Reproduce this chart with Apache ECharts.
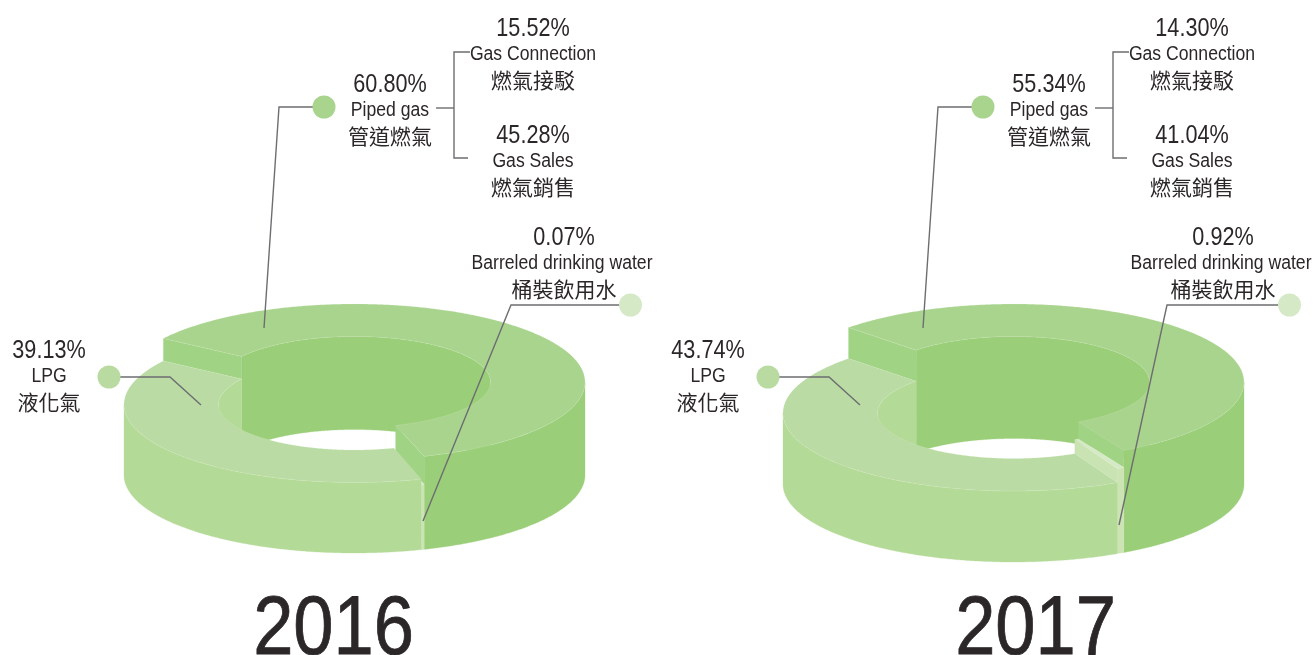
<!DOCTYPE html>
<html><head><meta charset="utf-8">
<style>html,body{margin:0;padding:0;background:#fff}#c{width:1313px;height:655px}</style>
<script src="https://cdn.jsdelivr.net/npm/echarts@6/dist/echarts.min.js"></script>
</head><body><div id="c"></div>
<script>
// ---- data ----
const years = ['2016', '2017'];
const sliceNames = ['Piped gas', 'Barreled drinking water', 'LPG'];
const sliceNamesZh = ['管道燃氣', '桶裝飲用水', '液化氣'];
const subNames = ['Gas Connection', 'Gas Sales'];
const subNamesZh = ['燃氣接駁', '燃氣銷售'];
// printed percentages
const printed2016 = ['60.80%', '0.07%', '39.13%'];
const printed2017 = ['55.34%', '0.92%', '43.74%'];
const printedSub2016 = ['15.52%', '45.28%'];
const printedSub2017 = ['14.30%', '41.04%'];
// slice shares as drawn in the artwork (measured; the artist's slices differ slightly from the printed figures)
const drawn2016 = [60.67, 0.22, 39.11];
const drawn2017 = [54.75, 0.5, 44.75];

// ---- layout & style ----
const panels = [
  { cx: 354.5, dx: 0,   start: 304,   base: 475, tops: [382, 410, 404.5], drawn: drawn2016, printed: printed2016, sub: printedSub2016, yearX: 333.5,
    waterLine: [[630,305],[511,305],[423,521]] },
  { cx: 1013.5, dx: 659, start: 314.3, base: 484, tops: [382, 399, 413],  drawn: drawn2017, printed: printed2017, sub: printedSub2017, yearX: 1035.5,
    waterLine: [[1289,305],[1167,305],[1119,525]] }
];
const RX = 230.5, RY = 78, IRX = 136, IRY = 45.5;
const sliceColors = [
  { top: '#A9D48E', wall: '#9ACE78', side: '#A1D385' },
  { top: '#D6E9C6', wall: '#CCE4B4', side: '#C9E3B2' },
  { top: '#BADBA3', wall: '#B4DA97', side: '#B4DA97' }
];
const dotColors = ['#A9D48E', '#D6E9C6', '#B9DBA1'];
const textColor = '#2b2728', lineColor = '#6d6e71';
const SANS = '"Liberation Sans", Arial, sans-serif';
const CJK = '"Noto Sans CJK TC", sans-serif';

function pt(cx, cy, rx, ry, deg) {
  const a = deg * Math.PI / 180;
  return [cx + rx * Math.sin(a), cy - ry * Math.cos(a)];
}
function arc(cx, cy, rx, ry, a, b) {
  const pts = [], n = Math.max(2, Math.ceil(Math.abs(b - a) * 2));
  for (let i = 0; i <= n; i++) pts.push(pt(cx, cy, rx, ry, a + (b - a) * i / n));
  return pts;
}
function band(cx, cy1, cy2, rx, ry, a, b) {
  return arc(cx, cy1, rx, ry, a, b).concat(arc(cx, cy2, rx, ry, a, b).reverse());
}
function overlap(a, b, lo, hi) {
  const out = [];
  for (const k of [-360, 0, 360]) {
    const s = Math.max(a, lo + k), e = Math.min(b, hi + k);
    if (e > s) out.push([s, e]);
  }
  return out;
}

function makeRender(panel) {
  const n = panel.drawn.length;
  return function (params, api) {
    const i = params.dataIndex, share = api.value(0);
    let a = panel.start;
    for (let k = 0; k < i; k++) a += panel.drawn[k] * 3.6;
    const b = a + share * 3.6;
    const top = panel.tops[i], base = panel.base, c = sliceColors[i], cx = panel.cx;
    const kids = [];
    let z = i * 10;
    const poly = (points, fill, stroke) => kids.push({
      type: 'polygon', z2: z++, shape: { points },
      style: stroke ? { fill, stroke, lineWidth: 0.5 } : { fill, stroke: fill, lineWidth: 0.3 }
    });
    overlap(a, b, 270, 450).forEach(r => poly(band(cx, top, base, IRX, IRY, r[0], r[1]), c.wall));
    overlap(a, b, 90, 270).forEach(r => poly(band(cx, top, base, RX, RY, r[0], r[1]), c.wall));
    // radial faces towards the neighbour with the lower top
    const prevTop = panel.tops[(i + n - 1) % n], nextTop = panel.tops[(i + 1) % n];
    const face = (ang, cyTo) => poly([
      pt(cx, top, RX, RY, ang), pt(cx, top, IRX, IRY, ang),
      pt(cx, cyTo, IRX, IRY, ang), pt(cx, cyTo, RX, RY, ang)], c.side);
    if (Math.sin(a * Math.PI / 180) < 0 && prevTop > top) face(a, prevTop);
    if (Math.sin(b * Math.PI / 180) > 0 && nextTop > top) face(b, nextTop);
    poly(arc(cx, top, RX, RY, a, b).concat(arc(cx, top, IRX, IRY, a, b).reverse()), c.top, 'rgba(236,246,228,0.3)');
    return { type: 'group', children: kids };
  };
}

const graphics = [];
function txt(str, x, y, size, sx, font, stroke) {
  const style = { text: str, x: 0, y: 0, align: 'center', verticalAlign: 'middle', fill: textColor, fontSize: size, fontFamily: font };
  if (stroke) { style.stroke = textColor; style.lineWidth = stroke; }
  graphics.push({ type: 'text', x, y, scaleX: sx, silent: true, z: 10, style });
}
function block(pct, en, zh, x, y, enX) {
  txt(pct, x, y + 1, 25, 0.865, SANS);
  txt(en, enX === undefined ? x : enX, y + 26, 20, 0.88, SANS);
  txt(zh, x, y + 52, 21, 1, CJK);
}
function line(points) {
  graphics.push({ type: 'polyline', silent: true, z: 11, shape: { points },
    style: { stroke: lineColor, lineWidth: 1.4, fill: 'none' } });
}
function dot(x, y, r, fill) {
  graphics.push({ type: 'circle', silent: true, z: 12, shape: { cx: x, cy: y, r }, style: { fill } });
}
panels.forEach((p, idx) => {
  const d = p.dx;
  block(p.printed[0], sliceNames[0], sliceNamesZh[0], 390 + d, 84);
  block(p.sub[0], subNames[0], subNamesZh[0], 533 + d, 28);
  block(p.sub[1], subNames[1], subNamesZh[1], 533 + d, 135);
  block(p.printed[1], sliceNames[1], sliceNamesZh[1], 564 + d, 237, 562 + d);
  block(p.printed[2], sliceNames[2], sliceNamesZh[2], 49 + d, 350);
  txt(years[idx], p.yearX, 631, 84, 0.86, SANS, 0.8);
  line([[324 + d, 107], [279 + d, 107], [264 + d, 328]]);
  line([[109 + d, 377], [170 + d, 377], [201 + d, 405]]);
  line(p.waterLine);
  line([[436 + d, 108], [454 + d, 108]]);
  line([[470 + d, 52], [454 + d, 52], [454 + d, 158], [468 + d, 158]]);
  dot(324 + d, 107, 11.5, dotColors[0]);
  dot(109 + d, 377, 11.5, dotColors[2]);
  dot(630.5 + d, 305, 11.5, dotColors[1]);
});

const chart = echarts.init(document.getElementById('c'), null, { renderer: 'canvas' });
chart.setOption({
  animation: false,
  backgroundColor: '#fff',
  series: panels.map((p, idx) => ({
    type: 'custom', name: years[idx], coordinateSystem: 'none', silent: true,
    renderItem: makeRender(p),
    data: p.drawn.map((v, i) => ({ name: sliceNames[i], value: [v] }))
  })),
  graphic: { elements: graphics }
});
</script></body></html>
